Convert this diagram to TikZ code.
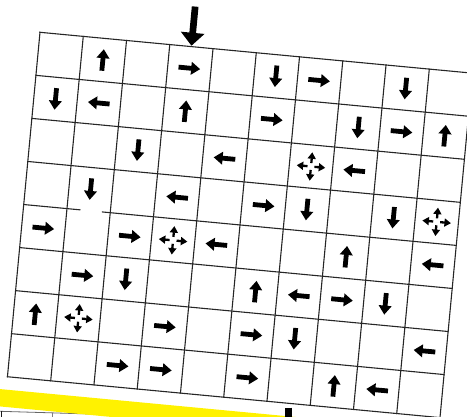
\documentclass[tikz,border=0pt]{standalone}
\usetikzlibrary{arrows.meta}
\definecolor{bandyellow}{RGB}{255,242,0}
\begin{document}
\begin{tikzpicture}[x=1pt, y=-1pt,
          gridline/.style={draw=black!85, line width=1.1pt, line cap=rect},
          mv/.style={line width=4.8pt, -{Triangle[length=9pt, width=12.5pt]}},
          anydir/.style={line width=2.3pt, -{Triangle[length=6.5pt, width=8pt]}},
          drop/.style={line width=6.7pt, -{Triangle[length=13pt, width=23pt]}}]
        \path[use as bounding box, clip] (0,0) rectangle (467,417);
        % next board, cut off at the bottom
        \draw[draw=black!60, line width=0.8pt] (0,411.3) -- (140,415.5);
        \draw[draw=black!90, line width=0.9pt] (1.7,411.3) -- (1.7,418);
        \draw[draw=black!50, line width=0.8pt] (52.4,412.8) -- (52.4,418);
        \begin{scope}[shift={(40,32.3)}, rotate=-5.4, x=43.45pt, y=-43.25pt]
          \fill[bandyellow] (-3,8.3) rectangle (12,8.7);
          \foreach \i in {0,...,10} \draw[gridline] (\i,0) -- (\i,8);
          \foreach \j in {0,1,2,3,5,6,7,8} \draw[gridline] (0,\j) -- (10,\j);
          \draw[gridline] (0,4) -- (1.3,4) (1.82,4) -- (10,4);
          \draw[drop] (3.5,-0.93) -- (3.5,-0.02);
          % row 1
          \draw[mv] (1.5,0.75) -- (1.5,0.25);
          \draw[mv] (3.25,0.5) -- (3.75,0.5);
          \draw[mv] (5.5,0.25) -- (5.5,0.75);
          \draw[mv] (6.25,0.5) -- (6.75,0.5);
          \draw[mv] (8.5,0.25) -- (8.5,0.75);
          % row 2
          \draw[mv] (0.5,1.25) -- (0.5,1.75);
          \draw[mv] (1.75,1.5) -- (1.25,1.5);
          \draw[mv] (3.5,1.75) -- (3.5,1.25);
          \draw[mv] (5.25,1.5) -- (5.75,1.5);
          \draw[mv] (7.5,1.25) -- (7.5,1.75);
          \draw[mv] (8.25,1.5) -- (8.75,1.5);
          \draw[mv] (9.5,1.75) -- (9.5,1.25);
          % row 3
          \draw[mv] (2.5,2.25) -- (2.5,2.75);
          \draw[mv] (4.75,2.5) -- (4.25,2.5);
          \foreach \a in {0,90,180,270} \draw[anydir, shift={(6.5,2.5)}] (\a:0.08) -- (\a:0.33);
          \draw[mv] (7.75,2.5) -- (7.25,2.5);
          % row 4
          \draw[mv] (1.5,3.25) -- (1.5,3.75);
          \draw[mv] (3.75,3.5) -- (3.25,3.5);
          \draw[mv] (5.25,3.5) -- (5.75,3.5);
          \draw[mv] (6.5,3.25) -- (6.5,3.75);
          \draw[mv] (8.5,3.25) -- (8.5,3.75);
          \foreach \a in {0,90,180,270} \draw[anydir, shift={(9.5,3.5)}] (\a:0.08) -- (\a:0.33);
          % row 5
          \draw[mv] (0.25,4.5) -- (0.75,4.5);
          \draw[mv] (2.25,4.5) -- (2.75,4.5);
          \foreach \a in {0,90,180,270} \draw[anydir, shift={(3.5,4.5)}] (\a:0.08) -- (\a:0.33);
          \draw[mv] (4.75,4.5) -- (4.25,4.5);
          \draw[mv] (7.5,4.75) -- (7.5,4.25);
          \draw[mv] (9.75,4.5) -- (9.25,4.5);
          % row 6
          \draw[mv] (1.25,5.5) -- (1.75,5.5);
          \draw[mv] (2.5,5.25) -- (2.5,5.75);
          \draw[mv] (5.5,5.75) -- (5.5,5.25);
          \draw[mv] (6.75,5.5) -- (6.25,5.5);
          \draw[mv] (7.25,5.5) -- (7.75,5.5);
          \draw[mv] (8.5,5.25) -- (8.5,5.75);
          % row 7
          \draw[mv] (0.5,6.75) -- (0.5,6.25);
          \foreach \a in {0,90,180,270} \draw[anydir, shift={(1.5,6.5)}] (\a:0.08) -- (\a:0.33);
          \draw[mv] (3.25,6.5) -- (3.75,6.5);
          \draw[mv] (5.25,6.5) -- (5.75,6.5);
          \draw[mv] (6.5,6.25) -- (6.5,6.75);
          \draw[mv] (9.75,6.5) -- (9.25,6.5);
          % row 8
          \draw[mv] (2.25,7.5) -- (2.75,7.5);
          \draw[mv] (3.25,7.5) -- (3.75,7.5);
          \draw[mv] (5.25,7.5) -- (5.75,7.5);
          \draw[mv] (7.5,7.75) -- (7.5,7.25);
          \draw[mv] (8.75,7.5) -- (8.25,7.5);
        \end{scope}
        \draw[line width=6.7pt] (288.3,407.7) -- (288.3,418);
      \end{tikzpicture}
\end{document}
